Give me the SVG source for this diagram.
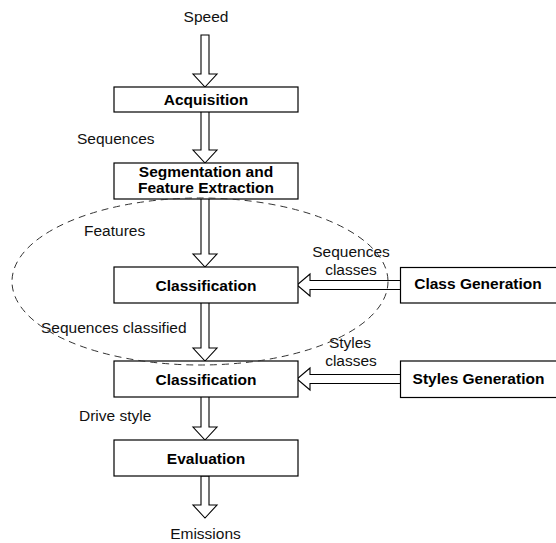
<svg xmlns="http://www.w3.org/2000/svg" width="556" height="543" viewBox="0 0 556 543">
<style>
.box{fill:#fff;stroke:#000;stroke-width:1.2}
.arr{fill:#fff;stroke:#000;stroke-width:1.1;stroke-linejoin:miter}
.t{font-family:"Liberation Sans",Arial,sans-serif;font-size:15.5px;fill:#111;text-anchor:middle}
.b{font-family:"Liberation Sans",Arial,sans-serif;font-size:15.5px;font-weight:bold;fill:#000;text-anchor:middle}
.l{font-family:"Liberation Sans",Arial,sans-serif;font-size:15.5px;fill:#111}
.ell{fill:none;stroke:#333;stroke-width:1;stroke-dasharray:7 5}
</style>
<rect width="556" height="543" fill="#fff"/>
<g id="connectors">
<path class="arr" d="M201,35 L201,74 L193,74 L205,87 L217,74 L209,74 L209,35 Z"/>
<path class="arr" d="M201,112 L201,150 L193,150 L205,163 L217,150 L209,150 L209,112"/>
<path class="arr" d="M201,199 L201,254 L193,254 L205,267 L217,254 L209,254 L209,199"/>
<path class="arr" d="M201,303 L201,348 L193,348 L205,361 L217,348 L209,348 L209,303"/>
<path class="arr" d="M201,397 L201,427 L193,427 L205,440 L217,427 L209,427 L209,397"/>
<path class="arr" d="M201,476 L201,505 L193,505 L205,518 L217,505 L209,505 L209,476 Z"/>
<path class="arr" d="M400,280.5 L310,280.5 L310,274 L297,285 L310,296 L310,289.5 L400,289.5"/>
<path class="arr" d="M400,374.5 L310,374.5 L310,368 L297,379 L310,390 L310,383.5 L400,383.5"/>
</g>
<g id="speed"><text class="t" x="206" y="22">Speed</text></g>
<g id="acquisition"><rect class="box" x="114" y="87" width="184" height="25"/><text class="b" x="206" y="105">Acquisition</text></g>
<g id="segmentation"><rect class="box" x="114" y="163" width="184" height="36"/><text class="b" x="206" y="177">Segmentation and</text><text class="b" x="206" y="193">Feature Extraction</text></g>
<g id="classification1"><rect class="box" x="114" y="267" width="184" height="36"/><text class="b" x="206" y="290.5">Classification</text></g>
<g id="classification2"><rect class="box" x="114" y="361" width="184" height="36"/><text class="b" x="206" y="384.5">Classification</text></g>
<g id="evaluation"><rect class="box" x="114" y="440" width="184" height="36"/><text class="b" x="206" y="463.5">Evaluation</text></g>
<g id="classgen"><rect class="box" x="400.5" y="267.5" width="160" height="35.5"/><text class="b" x="478" y="289">Class Generation</text></g>
<g id="stylesgen"><rect class="box" x="400.5" y="361" width="160" height="36.5"/><text class="b" x="478.5" y="383.5">Styles Generation</text></g>
<g id="emissions"><text class="t" x="205.5" y="539">Emissions</text></g>
<g id="labels">
<text class="l" x="77" y="144">Sequences</text>
<text class="l" x="84" y="236">Features</text>
<text class="l" x="41" y="333">Sequences classified</text>
<text class="t" x="351" y="257">Sequences</text>
<text class="t" x="351" y="275">classes</text>
<text class="t" x="350" y="348">Styles</text>
<text class="t" x="351" y="366">classes</text>
<text class="l" x="79" y="421">Drive style</text>
</g>
<g id="group-ellipse"><ellipse class="ell" cx="200" cy="281.5" rx="188" ry="83.5"/></g>
</svg>
